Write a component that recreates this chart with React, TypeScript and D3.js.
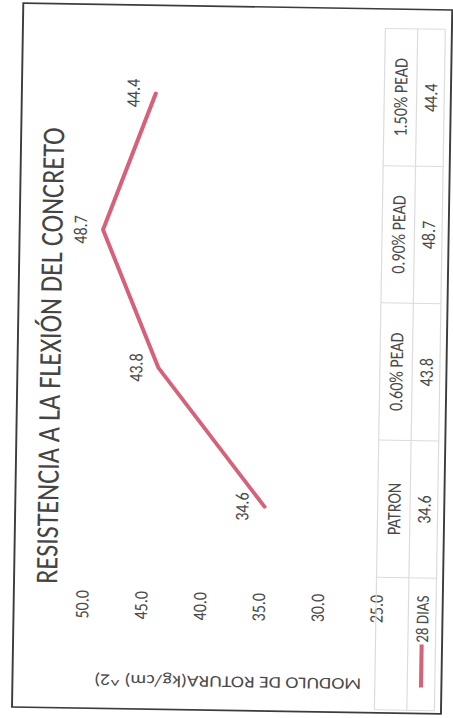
import React from "react";
import * as d3 from "d3";

const title = "RESISTENCIA A LA FLEXIÓN DEL CONCRETO";
const yAxisTitle = "MODULO DE ROTURA(kg/cm) ^2)";
const categories = ["PATRON", "0.60% PEAD", "0.90% PEAD", "1.50% PEAD"];
const seriesName = "28 DIAS";
const values28 = [34.6, 43.8, 48.7, 44.4];
const yTicks = [25, 30, 35, 40, 45, 50];

const FONT = "Carlito, Calibri, Lato, sans-serif";
const LINE_COLOR = "#d6627a";
const GRID = "#dcdcdc";
const TEXT = "#4a4a4a";

export default function App() {
  const W = 704;
  const H = 357.5;
  const x = d3.scaleBand<string>().domain(categories).range([135.5, 684.5]);
  const y = d3.scaleLinear().domain([25, 50]).range([302, 56.7]);
  const cx = (c: string) => (x(c) as number) + x.bandwidth() / 2;
  const line = d3
    .line<number>()
    .x((_, i) => cx(categories[i]))
    .y((d) => y(d));
  const fmt = d3.format(".1f");

  const tableTop = y(25);
  const tableMid = 329;
  const tableBot = 352;
  const tableLeft = 3;
  const bounds = categories.map((c) => x(c) as number).concat([x.range()[1]]);
  const rowMid1 = (tableTop + tableMid) / 2;
  const rowMid2 = (tableMid + tableBot) / 2;

  return (
    <svg
      width={453}
      height={718}
      style={{ position: "absolute", left: 0, top: 0, background: "#fff" }}
    >
      <g transform="translate(12,707) rotate(-89.08) scale(1,1.2)">
        <rect x={0} y={0} width={W} height={H} fill="#fff" stroke="#3c3c3c" strokeWidth={1.6} />
        <text
          x={W / 2}
          y={35.8}
          textAnchor="middle"
          fontFamily={FONT}
          fontSize={26.3}
          fill="#444"
        >
          {title}
        </text>
        <text
          transform={`translate(34,${(y(25) + y(50)) / 2}) rotate(-90)`}
          textAnchor="middle"
          fontFamily={FONT}
          fontSize={16.5}
          fill={TEXT}
        >
          {yAxisTitle}
        </text>
        {yTicks.map((t) => (
          <text
            key={t}
            x={118}
            y={y(t)}
            dy="0.35em"
            textAnchor="end"
            fontFamily={FONT}
            fontSize={16}
            fill={TEXT}
          >
            {fmt(t)}
          </text>
        ))}
        {/* data table grid */}
        <line x1={tableLeft} x2={bounds[4]} y1={tableTop} y2={tableTop} stroke={GRID} strokeWidth={1} />
        <line x1={tableLeft} x2={bounds[4]} y1={tableMid} y2={tableMid} stroke={GRID} strokeWidth={1} />
        <line x1={tableLeft} x2={bounds[4]} y1={tableBot} y2={tableBot} stroke={GRID} strokeWidth={1} />
        <line x1={tableLeft} x2={tableLeft} y1={tableTop} y2={tableBot} stroke={GRID} strokeWidth={1} />
        {bounds.map((b, i) => (
          <line key={i} x1={b} x2={b} y1={tableTop} y2={tableBot} stroke={GRID} strokeWidth={1} />
        ))}
        {categories.map((c, i) => (
          <g key={c}>
            <text
              x={cx(c)}
              y={rowMid1}
              dy="0.35em"
              textAnchor="middle"
              fontFamily={FONT}
              fontSize={16}
              fill={TEXT}
            >
              {c}
            </text>
            <text
              x={cx(c)}
              y={rowMid2}
              dy="0.35em"
              textAnchor="middle"
              fontFamily={FONT}
              fontSize={16}
              fill={TEXT}
            >
              {fmt(values28[i])}
            </text>
          </g>
        ))}
        <line x1={26} x2={69} y1={rowMid2} y2={rowMid2} stroke={LINE_COLOR} strokeWidth={3.4} />
        <text
          x={118}
          y={rowMid2}
          dy="0.35em"
          textAnchor="end"
          fontFamily={FONT}
          fontSize={15}
          fill={TEXT}
        >
          {seriesName}
        </text>
        <path
          d={line(values28) as string}
          fill="none"
          stroke={LINE_COLOR}
          strokeWidth={3.4}
          strokeLinejoin="round"
          strokeLinecap="round"
        />
        {values28.map((v, i) => (
          <text
            key={i}
            x={cx(categories[i])}
            y={y(v) - 19}
            dy="0.35em"
            textAnchor="middle"
            fontFamily={FONT}
            fontSize={16}
            fill={TEXT}
          >
            {fmt(v)}
          </text>
        ))}
      </g>
    </svg>
  );
}
